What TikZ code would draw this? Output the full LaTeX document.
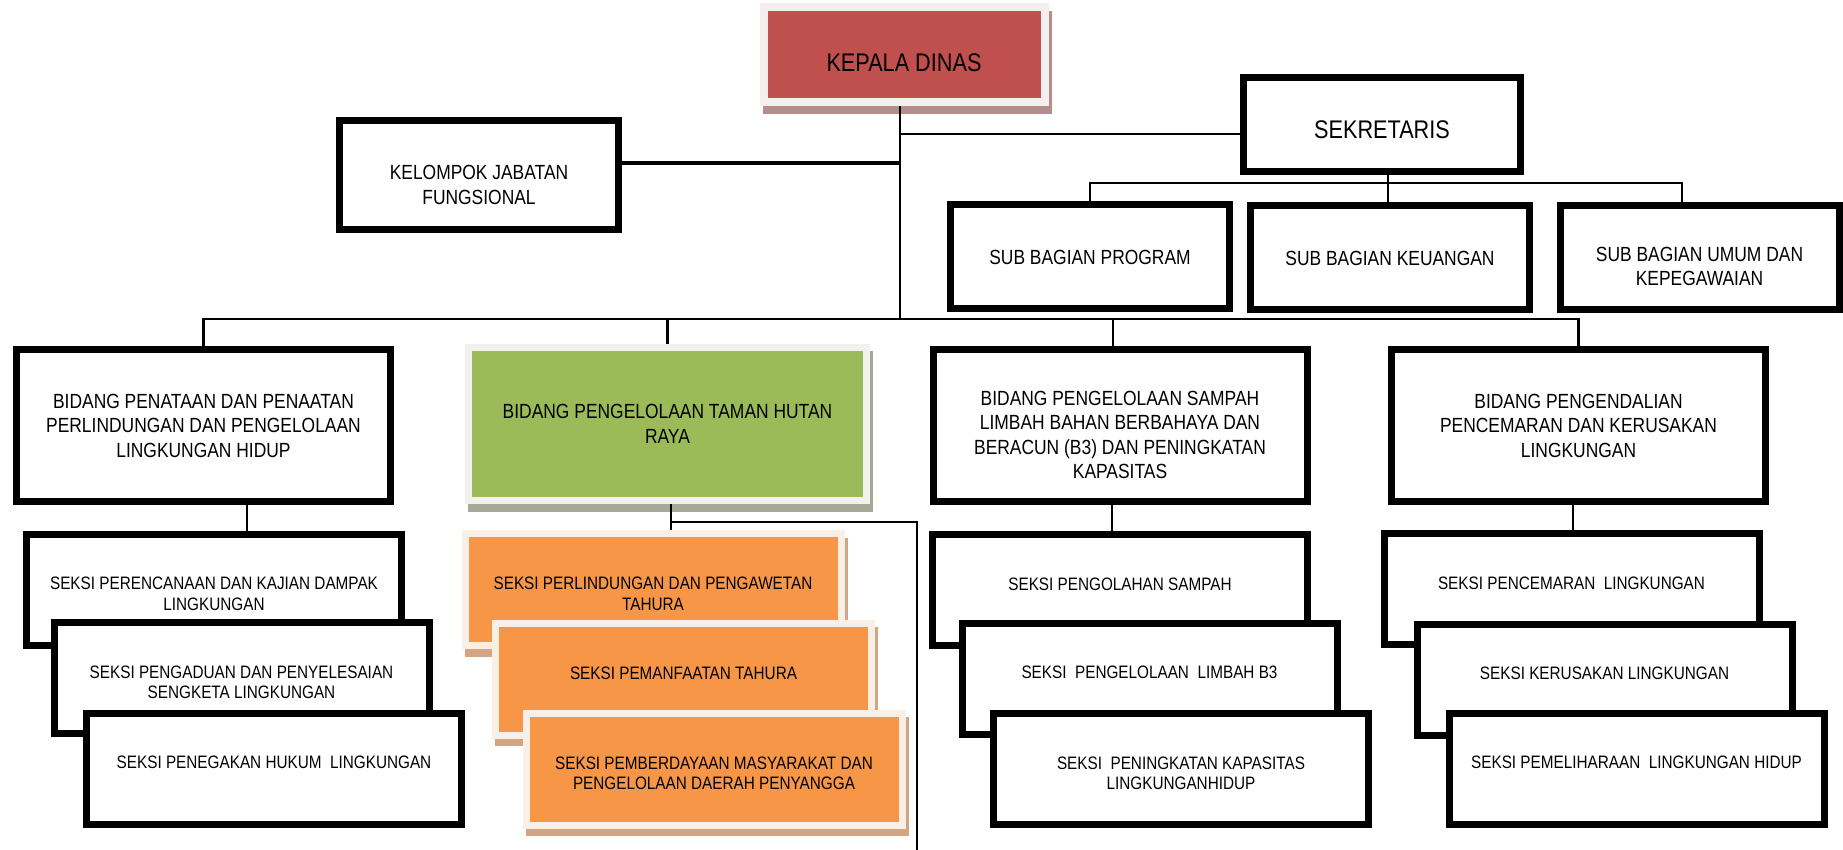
\documentclass[tikz,border=0pt]{standalone}
\usepackage{fontspec}
\setmainfont{Liberation Sans}[FakeStretch=0.85]
\usetikzlibrary{positioning,shadows}
\definecolor{kadisred}{RGB}{192,80,77}
\definecolor{kadisframe}{RGB}{246,238,238}
\definecolor{kadisshadow}{RGB}{180,142,142}
\definecolor{tahuragreen}{RGB}{155,187,89}
\definecolor{tahuraframe}{RGB}{240,242,235}
\definecolor{tahurashadow}{RGB}{166,168,152}
\definecolor{seksiorange}{RGB}{247,150,70}
\definecolor{seksiframe}{RGB}{250,239,230}
\definecolor{seksishadow}{RGB}{211,165,130}

\begin{document}
\begin{tikzpicture}[
  x=0.5pt, y=-0.5pt,
  box/.style={draw, line width=3.5pt, fill=white, align=center, inner sep=1pt, font=\fontsize{10.25}{12.25}\selectfont},
  topbox/.style={box, font=\fontsize{12.75}{15}\selectfont},
  subbox/.style={box, minimum width=139.5pt, minimum height=52pt},
  bidbox/.style={box, minimum width=187pt, minimum height=76pt},
  seksibox/.style={box, minimum width=187.5pt, minimum height=55.5pt, font=\fontsize{9}{10.35}\selectfont, text height=4pt, text depth=4pt},
  twoline/.style={text height=24.7pt, text depth=4pt},
  lower/.style={text height=#1, text depth=0pt},
  colbox/.style n args={3}{draw=#2, fill=#1, line width=3.5pt, align=center, inner sep=1pt,
    drop shadow={shadow xshift=1.5pt, shadow yshift=-3.75pt, fill=#3, draw=#3, opacity=1}},
  orangebox/.style={colbox={seksiorange}{seksiframe}{seksishadow}, minimum width=188pt, minimum height=56pt,
    font=\fontsize{9}{10.35}\selectfont, text height=4pt, text depth=4pt},
  conn/.style={line width=1.2pt}
]
\useasboundingbox (0,0) rectangle (1843,850);

% pimpinan
\node[colbox={kadisred}{kadisframe}{kadisshadow}, line width=4pt, minimum width=140.5pt, minimum height=47.5pt,
  font=\fontsize{12.75}{15}\selectfont, lower=16.1pt] (kadis) at (904,55) {KEPALA DINAS};
\node[topbox, minimum width=138.5pt, minimum height=47pt, lower=14.1pt] (sekre) at (1382,124.5) {SEKRETARIS};
\node[box, minimum width=139.5pt, minimum height=54.5pt, lower=29.1pt] (kjf) at (479,175) {KELOMPOK JABATAN\\FUNGSIONAL};

% sub bagian
\node[subbox] (sbprog) at (1090,257) {SUB BAGIAN PROGRAM};
\node[subbox] (sbkeu) at (1390,258) {SUB BAGIAN KEUANGAN};
\node[subbox, lower=27.6pt] (sbumum) at (1699.5,258) {SUB BAGIAN UMUM DAN\\KEPEGAWAIAN};

% bidang
\node[bidbox] (bid1) at (203.5,425.5) {BIDANG PENATAAN DAN PENAATAN\\PERLINDUNGAN DAN PENGELOLAAN\\LINGKUNGAN HIDUP};
\node[colbox={tahuragreen}{tahuraframe}{tahurashadow}, minimum width=199pt, minimum height=76.5pt,
  font=\fontsize{10.25}{12.25}\selectfont] (bid2) at (667.5,424) {BIDANG PENGELOLAAN TAMAN HUTAN\\RAYA};
\node[bidbox, lower=53.1pt] (bid3) at (1120,425.5) {BIDANG PENGELOLAAN SAMPAH\\LIMBAH BAHAN BERBAHAYA DAN\\BERACUN (B3) DAN PENINGKATAN\\KAPASITAS};
\node[bidbox] (bid4) at (1578.5,425.5) {BIDANG PENGENDALIAN\\PENCEMARAN DAN KERUSAKAN\\LINGKUNGAN};

% seksi
\node[seksibox, twoline] (s1a) at (214,589.5) {SEKSI PERENCANAAN DAN KAJIAN DAMPAK\\LINGKUNGAN};
\node[seksibox, twoline] (s1b) at (241.5,678) {SEKSI PENGADUAN DAN PENYELESAIAN\\SENGKETA LINGKUNGAN};
\node[seksibox] (s1c) at (274,768.5) {SEKSI PENEGAKAN HUKUM~ LINGKUNGAN};

\node[orangebox, twoline] (or1) at (653,589.5) {SEKSI PERLINDUNGAN DAN PENGAWETAN\\TAHURA};
\node[orangebox] (or2) at (683.5,679) {SEKSI PEMANFAATAN TAHURA};
\node[orangebox, twoline] (or3) at (714,769) {SEKSI PEMBERDAYAAN MASYARAKAT DAN\\PENGELOLAAN DAERAH PENYANGGA};

\node[seksibox] (s3a) at (1120,590) {SEKSI PENGOLAHAN SAMPAH};
\node[seksibox] (s3b) at (1149.5,678.5) {SEKSI~ PENGELOLAAN~ LIMBAH B3};
\node[seksibox, twoline] (s3c) at (1181,769) {SEKSI~ PENINGKATAN KAPASITAS\\LINGKUNGANHIDUP};

\node[seksibox] (s4a) at (1571.5,589) {SEKSI PENCEMARAN~ LINGKUNGAN};
\node[seksibox] (s4b) at (1604.5,679.5) {SEKSI KERUSAKAN LINGKUNGAN};
\node[seksibox] (s4c) at (1636.5,768.5) {SEKSI PEMELIHARAAN~ LINGKUNGAN HIDUP};

% garis
\coordinate (mainbus) at (900,319);
\coordinate (subbus) at (1388,183);
\coordinate (gjoin) at (671,522);
\coordinate (tail) at (917,850);

\draw[conn, line width=1pt] (kadis.south -| mainbus) -- (mainbus);
\draw[conn, line width=1.6pt] ([yshift=6pt]kjf.east) -- ([yshift=6pt]kjf.east -| mainbus);
\draw[conn, line width=1pt] ([yshift=-4.75pt]sekre.west -| mainbus) -- ([yshift=-4.75pt]sekre.west);
\draw[conn] (sekre.south -| subbus) -- (sbkeu.north -| subbus);
\draw[conn] (sbprog.north) |- (subbus) -| ([xshift=-8.75pt]sbumum.north);
\draw[conn] (bid1.north) |- (mainbus) -| (bid4.north);
\draw[conn] (bid2.north) -- (bid2.north |- mainbus);
\draw[conn] ([xshift=-3.5pt]bid3.north) -- ([xshift=-3.5pt]bid3.north |- mainbus);
\draw[conn] ([xshift=21.75pt]bid1.south) -- ([xshift=21.75pt]bid1.south |- s1a.north);
\draw[conn] ([xshift=-4pt]bid3.south) -- ([xshift=-4pt]bid3.south |- s3a.north);
\draw[conn] ([xshift=-2.75pt]bid4.south) -- ([xshift=-2.75pt]bid4.south |- s4a.north);
\draw[conn] (bid2.south -| gjoin) -- (or1.north -| gjoin);
\draw[conn] (gjoin) -| (tail);
\end{tikzpicture}
\end{document}
